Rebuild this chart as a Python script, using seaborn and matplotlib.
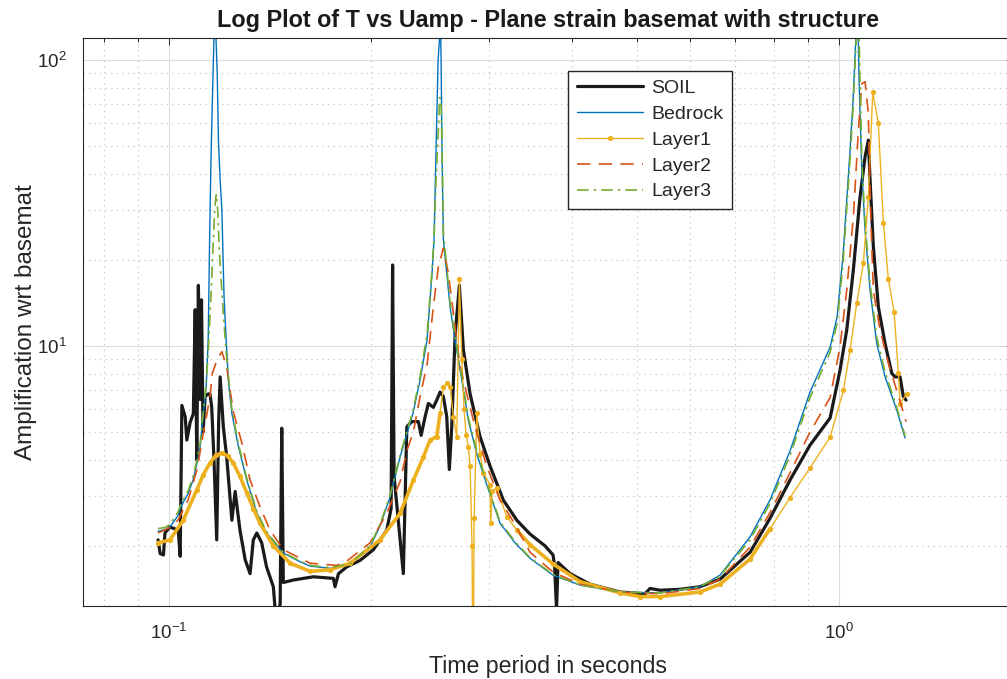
import numpy as np
import matplotlib
matplotlib.use('Agg')
import matplotlib.pyplot as plt
import seaborn as sns
from matplotlib.ticker import LogLocator, NullFormatter

# Period (s) and amplification
soil_T = [0.0963, 0.0970, 0.0981, 0.0986, 0.1003, 0.1032, 0.1039, 0.1045, 0.1057, 0.1063,
          0.1075, 0.1087, 0.1094, 0.1100, 0.1106, 0.1113, 0.1118, 0.1124, 0.1132, 0.1144,
          0.1151, 0.1158, 0.1167, 0.1178, 0.1186, 0.1192, 0.1205, 0.1219, 0.1241, 0.1255,
          0.1276, 0.1299, 0.1321, 0.1336, 0.1352, 0.1375, 0.1398, 0.1431, 0.1440, 0.1456,
          0.1465, 0.1473, 0.1481, 0.1533, 0.1642, 0.1759, 0.1769, 0.1790, 0.1842, 0.1928,
          0.2018, 0.2113, 0.2145, 0.2156, 0.2167, 0.2237, 0.2264, 0.2303, 0.2356, 0.2378,
          0.2411, 0.2438, 0.2480, 0.2509, 0.2538, 0.2567, 0.2597, 0.2620, 0.2642, 0.2672,
          0.2712, 0.2750, 0.2814, 0.2912, 0.3014, 0.3155, 0.3304, 0.3458, 0.3641, 0.3742,
          0.3762, 0.3787, 0.3807, 0.3967, 0.4249, 0.4711, 0.5133, 0.5222, 0.5405, 0.5789,
          0.6201, 0.6642, 0.7365, 0.7890, 0.8450, 0.9049, 0.9696, 1.0034, 1.0268, 1.0504,
          1.0749, 1.0935, 1.1059, 1.1124, 1.1251, 1.1446, 1.1713, 1.1985, 1.2122, 1.2332,
          1.2473, 1.2589]
soil_amp = [2.10, 1.88, 1.86, 2.22, 2.33, 2.27, 1.84, 6.2, 5.66, 4.69,
            5.4, 5.8, 13.4, 4.0, 16.3, 6.5, 14.5, 5.0, 6.67, 6.8,
            6.8, 6.1, 4.0, 2.1, 5.5, 7.8, 5.22, 4.1, 2.46, 3.1,
            2.27, 1.79, 1.60, 2.10, 2.22, 2.05, 1.69, 1.44, 1.20, 1.20,
            1.25, 5.16, 1.49, 1.52, 1.56, 1.54, 1.44, 1.60, 1.69, 1.78,
            1.94, 2.27, 2.70, 19.2, 3.5, 1.60, 5.22, 5.44, 5.44, 4.87,
            5.66, 6.3, 6.1, 6.47, 6.9, 6.66, 5.66, 3.70, 5.22, 10.8,
            16.3, 9.68, 6.8, 4.82, 3.8, 2.89, 2.46, 2.20, 2.0, 1.86,
            1.70, 1.2, 1.75, 1.60, 1.47, 1.38, 1.36, 1.42, 1.40, 1.41,
            1.44, 1.53, 1.90, 2.50, 3.4, 4.5, 5.6, 8.24, 11.4, 18.5,
            33.3, 45.9, 52.5, 38.0, 22.2, 13.7, 10.2, 8.03, 7.8, 7.8,
            6.65, 6.47]

bed_T = [0.0963, 0.0986, 0.1003, 0.1031, 0.1043, 0.1068, 0.1086, 0.1101, 0.1113, 0.1124,
         0.1136, 0.1144, 0.1150, 0.1155, 0.1161, 0.1167, 0.1171, 0.1175, 0.1180, 0.1185,
         0.1192, 0.1199, 0.1208, 0.1217, 0.1226, 0.1241, 0.1269, 0.1306, 0.1352, 0.1398,
         0.1480, 0.1569, 0.1624, 0.1739, 0.1863, 0.1995, 0.2065, 0.2137, 0.2212, 0.2266,
         0.2313, 0.2369, 0.2427, 0.2469, 0.2486, 0.2503, 0.2521, 0.2542, 0.2547, 0.2555,
         0.2567, 0.2627, 0.2672, 0.2735, 0.2797, 0.2879, 0.2980, 0.3119, 0.3284, 0.3458,
         0.3742, 0.4106, 0.4711, 0.5405, 0.6201, 0.6642, 0.7365, 0.7890, 0.8450, 0.9049,
         0.9696, 0.9931, 1.0138, 1.0385, 1.0493, 1.0602, 1.0656, 1.0712, 1.0812, 1.0935,
         1.1124, 1.1383, 1.1713, 1.2193, 1.2546]
bed_amp = [2.25, 2.28, 2.33, 2.55, 2.76, 3.05, 3.40, 3.9, 4.46, 5.7,
           7.2, 10.5, 25, 45, 75, 120, 140, 120, 90, 52.5,
           38, 29.9, 14.9, 10.5, 7.6, 5.81, 4.46, 3.40, 2.61, 2.22,
           1.89, 1.76, 1.70, 1.67, 1.715, 1.98, 2.35, 2.96, 4.09, 4.96,
           5.83, 7.6, 10.5, 18.0, 23.5, 48, 100, 135, 100, 48,
           23.5, 13.7, 10.5, 7.6, 5.5, 4.2, 3.27, 2.40, 2.05, 1.81,
           1.58, 1.46, 1.38, 1.37, 1.44, 1.58, 2.15, 2.90, 4.3, 6.9,
           9.9, 12.6, 20.8, 48.4, 72.4, 125, 160, 85, 41.2, 25.4,
           15.7, 10.2, 7.81, 5.97, 4.77]

l1_T = [0.0963, 0.1003, 0.1050, 0.1100, 0.1125, 0.1151, 0.1175, 0.1199, 0.1223, 0.1247,
        0.1276, 0.1306, 0.1336, 0.1367, 0.1431, 0.1516, 0.1624, 0.1739, 0.1863, 0.2065,
        0.2212, 0.2316, 0.2396, 0.2452, 0.2509, 0.2538, 0.2567, 0.2597, 0.2627, 0.2657,
        0.2688, 0.2712, 0.2735, 0.2756, 0.2775, 0.2797, 0.2814, 0.2833, 0.2843, 0.2853,
        0.2879, 0.2912, 0.2946, 0.3014, 0.3021, 0.3035, 0.3084, 0.3192, 0.3304, 0.3458,
        0.3742, 0.4106, 0.4711, 0.5046, 0.5405, 0.6201, 0.6642, 0.7365, 0.7890, 0.8450,
        0.9049, 0.9696, 1.0153, 1.0385, 1.0627, 1.0871, 1.1059, 1.1228, 1.1446, 1.1644,
        1.1846, 1.2081, 1.2261, 1.2332, 1.2619]
l1_amp = [2.05, 2.10, 2.46, 3.14, 3.55, 3.90, 4.15, 4.23, 4.13, 3.90,
          3.50, 3.07, 2.70, 2.40, 2.00, 1.74, 1.63, 1.65, 1.74, 2.10,
          2.60, 3.40, 4.09, 4.69, 4.82, 5.82, 7.2, 7.42, 7.2, 5.66,
          4.82, 17.1, 9.0, 6.0, 4.9, 4.45, 3.8, 2.0, 0.5, 2.5,
          5.82, 4.2, 3.6, 3.27, 2.40, 3.1, 3.2, 2.53, 2.27, 2.02,
          1.73, 1.50, 1.37, 1.33, 1.33, 1.38, 1.47, 1.80, 2.30, 2.95,
          3.75, 4.8, 7.0, 9.68, 14.1, 19.5, 33.3, 77, 60, 27.0,
          17.1, 13.2, 8.05, 6.29, 6.82]

l2_T = [0.0963, 0.1003, 0.1031, 0.1068, 0.1101, 0.1124, 0.1136, 0.1151, 0.1160, 0.1180,
        0.1199, 0.1219, 0.1247, 0.1287, 0.1321, 0.1367, 0.1415, 0.1481, 0.1624, 0.1780,
        0.1842, 0.1995, 0.2113, 0.2212, 0.2264, 0.2316, 0.2369, 0.2427, 0.2480, 0.2523,
        0.2567, 0.2611, 0.2657, 0.2719, 0.2782, 0.2862, 0.2980, 0.3119, 0.3276, 0.3458,
        0.3742, 0.4106, 0.4711, 0.5405, 0.6201, 0.6642, 0.7365, 0.7890, 0.8450, 0.9049,
        0.9696, 1.0034, 1.0268, 1.0504, 1.0686, 1.0812, 1.0935, 1.1059, 1.1097, 1.1151,
        1.1251, 1.1513, 1.1846, 1.2193, 1.2589]
l2_amp = [2.22, 2.32, 2.46, 2.90, 3.70, 4.9, 5.6, 6.65, 8.0, 9.0,
          9.55, 8.46, 5.9, 4.5, 3.40, 2.74, 2.27, 1.94, 1.74, 1.71,
          1.77, 2.05, 2.60, 3.35, 4.3, 5.0, 6.65, 8.6, 13.7, 18.9,
          22, 18.0, 13.0, 8.46, 6.8, 5.22, 3.80, 2.89, 2.40, 1.90,
          1.62, 1.47, 1.38, 1.36, 1.42, 1.53, 1.98, 2.62, 3.6, 5.0,
          6.6, 9.95, 15.7, 28.3, 56.8, 82.6, 84, 65, 43.6, 28.3,
          15.6, 11.4, 8.7, 7.0, 5.44]

l3_T = [0.0963, 0.0986, 0.1003, 0.1031, 0.1043, 0.1068, 0.1086, 0.1101, 0.1113, 0.1124,
        0.1136, 0.1144, 0.1155, 0.1163, 0.1170, 0.1176, 0.1182, 0.1188, 0.1199, 0.1208,
        0.1217, 0.1226, 0.1241, 0.1269, 0.1306, 0.1352, 0.1398, 0.1480, 0.1569, 0.1624,
        0.1739, 0.1863, 0.1995, 0.2065, 0.2137, 0.2212, 0.2266, 0.2313, 0.2369, 0.2427,
        0.2469, 0.2486, 0.2503, 0.2521, 0.2535, 0.2547, 0.2555, 0.2567, 0.2627, 0.2672,
        0.2735, 0.2797, 0.2879, 0.2980, 0.3119, 0.3284, 0.3458, 0.3742, 0.4106, 0.4711,
        0.5405, 0.6201, 0.6642, 0.7365, 0.7890, 0.8450, 0.9049, 0.9696, 0.9931, 1.0138,
        1.0385, 1.0493, 1.0602, 1.0656, 1.0712, 1.0812, 1.0935, 1.1124, 1.1383, 1.1713,
        1.2193, 1.2546]
l3_amp = [2.30, 2.32, 2.38, 2.62, 2.82, 3.12, 3.50, 4.0, 4.6, 5.8,
          7.4, 9.5, 15, 22, 30, 34, 30, 22, 15.5, 12.0,
          9.5, 7.9, 6.0, 4.55, 3.45, 2.64, 2.24, 1.90, 1.77, 1.71,
          1.68, 1.73, 2.0, 2.38, 3.0, 4.15, 5.05, 5.95, 7.8, 11.0,
          18.5, 24, 38, 55, 74, 70, 50, 25, 14.2, 10.8,
          7.8, 5.6, 4.3, 3.32, 2.43, 2.07, 1.82, 1.59, 1.46, 1.38,
          1.37, 1.44, 1.57, 2.10, 2.82, 4.15, 6.6, 9.5, 12.0, 19.5,
          45, 68, 115, 150, 120, 45, 27, 16.5, 10.7, 8.1,
          6.1, 4.85]

c_bed, c_l1, c_l2, c_l3 = '#0072BD', '#EDB120', '#D95319', '#77AC30'

sns.set_theme(style='white')
plt.rcParams['font.family'] = ['Liberation Sans', 'DejaVu Sans']
plt.rcParams['mathtext.fontset'] = 'custom'
plt.rcParams['mathtext.rm'] = 'Liberation Sans'
plt.rcParams['mathtext.it'] = 'Liberation Sans:italic'
plt.rcParams['mathtext.bf'] = 'Liberation Sans:bold'
plt.rcParams['axes.unicode_minus'] = False
dark = '#262626'

fig = plt.figure(figsize=(10.07, 6.79), dpi=100)
ax = fig.add_axes([83 / 1007, 73 / 679, 930 / 1007, 568 / 679])
ax.set_xscale('log')
ax.set_yscale('log')

sns.lineplot(x=soil_T, y=soil_amp, ax=ax, color='k', lw=2.3, label='SOIL',
             estimator=None, sort=False)
sns.lineplot(x=bed_T, y=bed_amp, ax=ax, color=c_bed, lw=1.0, label='Bedrock',
             estimator=None, sort=False)

# Layer1 is densely sampled at short periods -> looks like a thick band there
t1 = np.array(l1_T)
a1 = np.array(l1_amp)
for m in [t1 <= 0.2538, (t1 >= 0.3304) & (t1 <= 0.80)]:
    sns.lineplot(x=t1[m], y=a1[m], ax=ax, color=c_l1, lw=2.6,
                 estimator=None, sort=False)
sns.lineplot(x=l1_T, y=l1_amp, ax=ax, color=c_l1, lw=1.0, marker='.', ms=6,
             mec=c_l1, mfc=c_l1, label='Layer1', estimator=None, sort=False)
sns.lineplot(x=l2_T, y=l2_amp, ax=ax, color=c_l2, lw=1.2, linestyle=(0, (8, 5)),
             label='Layer2', estimator=None, sort=False)
sns.lineplot(x=l3_T, y=l3_amp, ax=ax, color=c_l3, lw=1.2, linestyle=(0, (7, 3, 1.5, 3)),
             label='Layer3', estimator=None, sort=False)

ax.set_xlim(0.0744, 1.818)
ax.set_ylim(1.233, 119.4)

ax.xaxis.set_minor_locator(LogLocator(base=10, subs=np.arange(2, 10), numticks=20))
ax.yaxis.set_minor_locator(LogLocator(base=10, subs=np.arange(2, 10), numticks=20))
ax.xaxis.set_minor_formatter(NullFormatter())
ax.yaxis.set_minor_formatter(NullFormatter())

ax.set_axisbelow(True)
ax.grid(True, which='major', color='#dcdcdc', lw=0.8, ls='-')
ax.grid(True, which='minor', color='#bdbdbd', lw=0.8, ls=(0, (1, 4)))
for s in ax.spines.values():
    s.set_color(dark)
    s.set_linewidth(0.8)
ax.tick_params(which='both', direction='in', top=True, right=True, colors=dark,
               labelsize=13.5, width=0.7)
ax.tick_params(which='major', length=5)
ax.tick_params(which='minor', length=3)
ax.tick_params(axis='x', which='major', pad=12)
ax.tick_params(axis='y', which='major', pad=12)

ax.set_title('Log Plot of T vs Uamp - Plane strain basemat with structure',
             fontsize=16.8, fontweight='bold', color='k', pad=8)
ax.set_xlabel('Time period in seconds', fontsize=16.7, color=dark, labelpad=9)
ax.set_ylabel('Amplification wrt basemat', fontsize=17.5, color=dark, labelpad=0)

names = ['SOIL', 'Bedrock', 'Layer1', 'Layer2', 'Layer3']
handles, labels = ax.get_legend_handles_labels()
hmap = dict(zip(labels, handles))
leg = ax.legend([hmap[n] for n in names], names, loc='upper left',
                bbox_to_anchor=(0.5215, 0.942), borderaxespad=0, fontsize=14,
                frameon=True, fancybox=False, framealpha=1, edgecolor=dark,
                handlelength=3.4, handletextpad=0.45, labelspacing=0.42,
                borderpad=0.45, numpoints=1)
leg.get_frame().set_linewidth(1.0)
for t in leg.get_texts():
    t.set_color(dark)

fig.savefig('out.png', dpi=100)
